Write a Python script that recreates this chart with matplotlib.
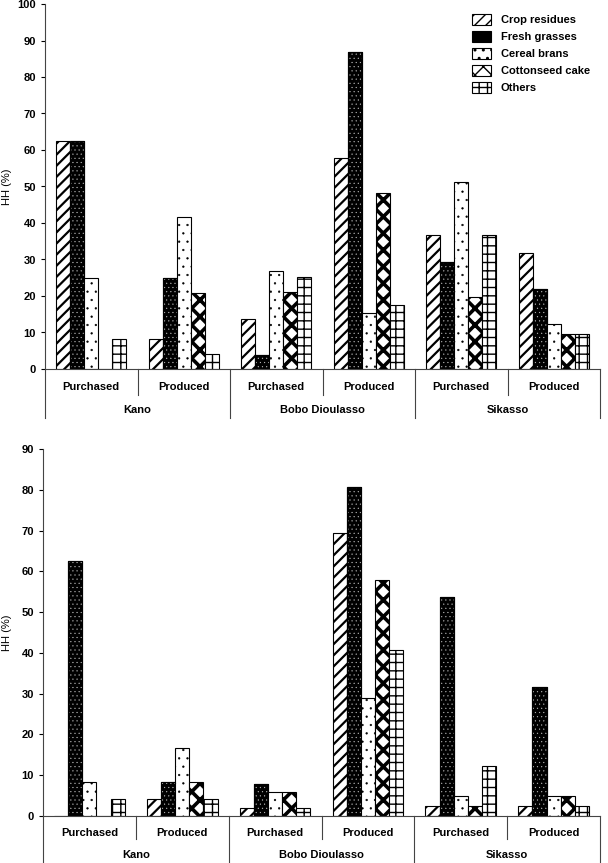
import numpy as np
import matplotlib
matplotlib.use('Agg')
import matplotlib.pyplot as plt
from matplotlib.patches import Patch

cities = ['Kano', 'Bobo Dioulasso', 'Sikasso']
sources = ['Purchased', 'Produced']
feeds = ['Crop residues', 'Fresh grasses', 'Cereal brans', 'Cottonseed cake', 'Others']

# top panel, one list per feed, order: Kano P/P, Bobo P/P, Sikasso P/P
top_crop = [62.5, 8.3, 13.6, 57.9, 36.7, 31.7]
top_fresh = [62.5, 25.0, 3.8, 86.8, 29.4, 22.0]
top_bran = [25.0, 41.7, 26.9, 15.3, 51.1, 12.2]
top_cotton = [0.0, 20.8, 21.2, 48.1, 19.6, 9.7]
top_other = [8.3, 4.2, 25.1, 17.5, 36.7, 9.7]

# bottom panel
bot_crop = [0.0, 4.2, 2.0, 69.4, 2.4, 2.4]
bot_fresh = [62.5, 8.3, 7.9, 80.8, 53.8, 31.7]
bot_bran = [8.3, 16.7, 5.9, 29.0, 4.9, 4.9]
bot_cotton = [0.0, 8.3, 5.9, 57.8, 2.4, 4.9]
bot_other = [4.2, 4.2, 2.0, 40.6, 12.2, 2.4]

# facecolor, hatch, hatch linewidth
styles = [
    ('white', '///', 1.6),
    ('black', None, 1.0),
    ('white', '..', 0.4),
    ('white', 'xx', 2.6),
    ('white', '++', 1.0),
]

plt.rcParams['font.family'] = 'Liberation Sans'
plt.rcParams['font.weight'] = 'bold'

W, H = 608, 863
fig = plt.figure(figsize=(W / 100, H / 100), dpi=100)


def panel(rect, series, ymax, lab_y, line_y, legend=False):
    ax = fig.add_axes(rect)
    x = np.arange(6) + 0.5
    bw = 0.152
    for i, vals in enumerate(series):
        xi = x + (i - 2) * bw
        fc, hatch, hlw = styles[i]
        with plt.rc_context({'hatch.linewidth': hlw}):
            ax.bar(xi, vals, bw, facecolor=fc, hatch=hatch,
                   edgecolor='black', linewidth=0.8, label=feeds[i])
        if i == 1:
            with plt.rc_context({'hatch.linewidth': 0.3}):
                ax.bar(xi, vals, bw, fill=False, hatch='....', edgecolor='#bbbbbb', linewidth=0)
            ax.bar(xi, vals, bw, fill=False, edgecolor='black', linewidth=0.8)
    ax.set_xlim(0, 6)
    ax.set_ylim(0, ymax)
    ax.set_yticks(np.arange(0, ymax + 1, 10))
    ax.tick_params(axis='y', labelsize=8, length=3, width=0.8)
    ax.set_xticks([])
    for s in ['top', 'right']:
        ax.spines[s].set_visible(False)
    for s in ['left', 'bottom']:
        ax.spines[s].set_color('#444444')
    ax.set_ylabel('HH (%)', fontsize=8)
    ax.yaxis.set_label_coords((12 - rect[0] * W) / (rect[2] * W), 0.5)

    tr = ax.get_xaxis_transform()
    for k in range(7):
        depth = line_y[1] if k % 2 == 0 else line_y[0]
        ax.plot([k, k], [0, depth], transform=tr, color='#444444', lw=0.8, clip_on=False)
    for k in range(6):
        ax.text(k + 0.5, lab_y[0], sources[k % 2], transform=tr, ha='center', va='center', fontsize=8)
    for c in range(3):
        ax.text(2 * c + 1, lab_y[1], cities[c], transform=tr, ha='center', va='center', fontsize=8)

    if legend:
        handles = []
        for fc, hatch, hlw in styles:
            with plt.rc_context({'hatch.linewidth': hlw}):
                handles.append(Patch(facecolor=fc, hatch=hatch, edgecolor='black', linewidth=0.8))
        ax.legend(handles, feeds, loc='upper right', bbox_to_anchor=(1.0, 1.0), frameon=False,
                  fontsize=8, handlelength=1.7, handleheight=1.2, labelspacing=0.5, handletextpad=0.9)
    return ax


panel([45 / W, (H - 369) / H, 555 / W, 365 / H],
      [top_crop, top_fresh, top_bran, top_cotton, top_other],
      100, (-0.049, -0.112), (-0.071, -0.134), legend=True)
panel([43 / W, (H - 815.7) / H, 557 / W, 366.4 / H],
      [bot_crop, bot_fresh, bot_bran, bot_cotton, bot_other],
      90, (-0.047, -0.107), (-0.063, -0.128))

fig.savefig('out.png', dpi=100)
